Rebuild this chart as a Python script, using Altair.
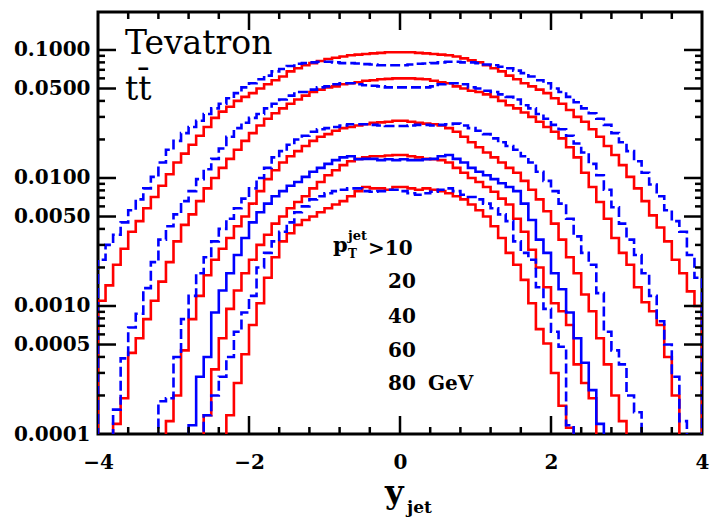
import numpy as np
import pandas as pd
import altair as alt

# ---- data (bin width 0.1, bins from -4 to 4; 0 = bin below the plotted range)
red_pt10 = [0.0011, 0.00145, 0.0021, 0.0028, 0.0038, 0.0046, 0.0058, 0.0071, 0.0087, 0.0107,
            0.0132, 0.0155, 0.0182, 0.0214, 0.025, 0.0295, 0.033, 0.036, 0.040, 0.043,
            0.046, 0.050, 0.054, 0.058, 0.062, 0.068, 0.072, 0.076, 0.079, 0.082,
            0.085, 0.087, 0.089, 0.091, 0.092, 0.093, 0.094, 0.095, 0.096, 0.096,
            0.096, 0.096, 0.095, 0.094, 0.093, 0.092, 0.091, 0.089, 0.086, 0.083,
            0.080, 0.076, 0.072, 0.068, 0.063, 0.059, 0.055, 0.052, 0.049, 0.046,
            0.042, 0.038, 0.034, 0.030, 0.0275, 0.024, 0.021, 0.0178, 0.0151, 0.0126,
            0.0102, 0.0083, 0.0066, 0.0051, 0.0041, 0.0032, 0.0023, 0.0018, 0.0013, 0.0010]
blue_pt10 = [0.0023, 0.0030, 0.0036, 0.0045, 0.0056, 0.0068, 0.0083, 0.0102, 0.0132, 0.0166,
             0.0195, 0.0224, 0.025, 0.028, 0.0316, 0.035, 0.038, 0.042, 0.046, 0.051,
             0.055, 0.059, 0.063, 0.068, 0.071, 0.075, 0.078, 0.079, 0.080, 0.081,
             0.081, 0.080, 0.079, 0.079, 0.0785, 0.0775, 0.077, 0.076, 0.076, 0.076,
             0.076, 0.077, 0.078, 0.0785, 0.079, 0.080, 0.081, 0.081, 0.080, 0.080,
             0.079, 0.077, 0.076, 0.074, 0.072, 0.069, 0.066, 0.062, 0.058, 0.055,
             0.050, 0.047, 0.043, 0.039, 0.035, 0.032, 0.029, 0.026, 0.0224, 0.019,
             0.0162, 0.0135, 0.011, 0.0089, 0.0072, 0.0056, 0.0046, 0.0038, 0.0025, 0.00166]
red_pt20 = [0, 0, 0.00012, 0.00019, 0.00043, 0.00056, 0.00079, 0.0011, 0.00155, 0.0022,
            0.0032, 0.0043, 0.0052, 0.0066, 0.0083, 0.0100, 0.012, 0.0141, 0.0166, 0.0195,
            0.0224, 0.0257, 0.029, 0.032, 0.035, 0.038, 0.041, 0.044, 0.047, 0.049,
            0.051, 0.052, 0.054, 0.055, 0.056, 0.0575, 0.058, 0.059, 0.0595, 0.060,
            0.060, 0.060, 0.0595, 0.059, 0.0575, 0.056, 0.055, 0.052, 0.050, 0.048,
            0.047, 0.045, 0.043, 0.040, 0.037, 0.035, 0.0325, 0.030, 0.0275, 0.025,
            0.023, 0.0204, 0.0174, 0.0145, 0.011, 0.0085, 0.0065, 0.0048, 0.0034, 0.0026,
            0.0021, 0.0014, 0.00107, 0.00091, 0.00071, 0.0004, 0.0002, 0, 0, 0]
blue_pt20 = [0, 0, 0.000155, 0.00039, 0.00068, 0.00087, 0.00138, 0.0022, 0.0033, 0.0042,
             0.0052, 0.0066, 0.0079, 0.0098, 0.0117, 0.0141, 0.017, 0.021, 0.0245, 0.027,
             0.0295, 0.0316, 0.035, 0.038, 0.041, 0.044, 0.047, 0.047, 0.049, 0.051,
             0.052, 0.054, 0.055, 0.055, 0.054, 0.053, 0.0525, 0.052, 0.051, 0.051,
             0.051, 0.051, 0.051, 0.051, 0.052, 0.054, 0.055, 0.055, 0.054, 0.051,
             0.050, 0.048, 0.047, 0.045, 0.043, 0.041, 0.037, 0.035, 0.0316, 0.029,
             0.026, 0.024, 0.0214, 0.0186, 0.0158, 0.0129, 0.0105, 0.0081, 0.0059, 0.0044,
             0.0033, 0.0025, 0.0018, 0.0012, 0.00076, 0.0005, 0.00028, 0.000126, 0, 0]
red_pt40 = [0, 0, 0, 0, 0, 0, 0, 0, 0, 0.000126,
            0.0002, 0.00045, 0.00079, 0.0012, 0.00174, 0.0023, 0.0028, 0.0034, 0.0042, 0.0050,
            0.0063, 0.0079, 0.0098, 0.0115, 0.0132, 0.0148, 0.0162, 0.0178, 0.0195, 0.021,
            0.022, 0.0234, 0.0245, 0.025, 0.0257, 0.0263, 0.027, 0.0272, 0.0275, 0.028,
            0.028, 0.0275, 0.027, 0.0266, 0.0263, 0.0257, 0.0245, 0.023, 0.021, 0.019,
            0.0174, 0.0158, 0.0145, 0.0132, 0.012, 0.011, 0.0095, 0.0081, 0.0068, 0.0055,
            0.0044, 0.0033, 0.0024, 0.0018, 0.00123, 0.00091, 0.00056, 0.00035, 0.0002, 0.000126,
            0, 0, 0, 0, 0, 0, 0, 0, 0, 0]
blue_pt40 = [0, 0, 0, 0, 0, 0, 0, 0, 0.00018, 0.00019,
             0.0004, 0.00079, 0.0012, 0.0018, 0.0024, 0.0032, 0.0040, 0.0048, 0.0058, 0.0069,
             0.0083, 0.0100, 0.012, 0.0145, 0.0162, 0.0182, 0.020, 0.0214, 0.023, 0.024,
             0.0245, 0.025, 0.0257, 0.0263, 0.0263, 0.0263, 0.026, 0.0257, 0.0255, 0.0255,
             0.0255, 0.0257, 0.026, 0.026, 0.0257, 0.026, 0.0263, 0.0266, 0.0257, 0.0245,
             0.0234, 0.022, 0.0204, 0.019, 0.0178, 0.0166, 0.0148, 0.0132, 0.0112, 0.0095,
             0.0079, 0.0063, 0.0048, 0.0035, 0.0026, 0.0021, 0.00126, 0.00063, 0.00045, 0.00035,
             0.0002, 0.000148, 0, 0, 0, 0, 0, 0, 0, 0]
red_pt60 = [0, 0, 0, 0, 0, 0, 0, 0, 0, 0,
            0, 0, 0, 0, 0.00014, 0.00032, 0.00056, 0.00095, 0.00132, 0.0018,
            0.0023, 0.0030, 0.0036, 0.0044, 0.0050, 0.0058, 0.0065, 0.0072, 0.0083, 0.0093,
            0.0105, 0.0115, 0.0126, 0.0135, 0.0141, 0.0145, 0.0148, 0.0148, 0.0150, 0.0151,
            0.0151, 0.0148, 0.0145, 0.0141, 0.0140, 0.0138, 0.0132, 0.0120, 0.0110, 0.0100,
            0.0093, 0.0085, 0.0078, 0.0069, 0.0062, 0.0048, 0.0038, 0.00275, 0.0020, 0.0014,
            0.00105, 0.00091, 0.00071, 0.00035, 0.00025, 0.00019, 0, 0, 0, 0,
            0, 0, 0, 0, 0, 0, 0, 0, 0, 0]
blue_pt60 = [0, 0, 0, 0, 0, 0, 0, 0, 0, 0,
             0, 0, 0.000117, 0.00028, 0.0004, 0.00089, 0.00132, 0.0018, 0.0025, 0.0034,
             0.0045, 0.0054, 0.0063, 0.0072, 0.0079, 0.0087, 0.0093, 0.0102, 0.0112, 0.0120,
             0.0129, 0.0138, 0.0145, 0.0148, 0.0140, 0.0141, 0.0141, 0.0138, 0.0140, 0.0138,
             0.0140, 0.0138, 0.0138, 0.0140, 0.0141, 0.0148, 0.0151, 0.0141, 0.0132, 0.0120,
             0.0112, 0.0105, 0.0098, 0.0091, 0.0085, 0.0079, 0.0063, 0.0047, 0.0033, 0.0026,
             0.0018, 0.00135, 0.00089, 0.00056, 0.00036, 0.00022, 0.00012, 0, 0, 0,
             0, 0, 0, 0, 0, 0, 0, 0, 0, 0]
red_pt80 = [0, 0, 0, 0, 0, 0, 0, 0, 0, 0,
            0, 0, 0, 0, 0, 0, 0, 0.00014, 0.00025, 0.00042,
            0.00071, 0.00105, 0.00166, 0.0024, 0.0032, 0.0037, 0.0043, 0.0047, 0.0050, 0.0054,
            0.0058, 0.0062, 0.0066, 0.0072, 0.0079, 0.0085, 0.0083, 0.0083, 0.0081, 0.0085,
            0.0085, 0.0083, 0.0081, 0.0083, 0.0081, 0.0079, 0.0076, 0.0072, 0.0068, 0.0062,
            0.0056, 0.0050, 0.0042, 0.0034, 0.0026, 0.0021, 0.0016, 0.00105, 0.00066, 0.00051,
            0.0003, 0.000166, 0.000112, 0, 0, 0, 0, 0, 0, 0,
            0, 0, 0, 0, 0, 0, 0, 0, 0, 0]
blue_pt80 = [0, 0, 0, 0, 0, 0, 0, 0, 0, 0,
             0, 0, 0, 0, 0.00014, 0.0002, 0.00028, 0.0004, 0.00063, 0.00089,
             0.0012, 0.0020, 0.0026, 0.0032, 0.0038, 0.0045, 0.0054, 0.0060, 0.0068, 0.0072,
             0.0076, 0.0079, 0.0081, 0.0083, 0.0083, 0.0079, 0.0078, 0.0079, 0.0081, 0.0081,
             0.0079, 0.0076, 0.0074, 0.0076, 0.0078, 0.0081, 0.0083, 0.0079, 0.0074, 0.0071,
             0.0068, 0.0063, 0.0058, 0.0052, 0.0046, 0.0032, 0.0026, 0.0023, 0.0014, 0.00095,
             0.00063, 0.00048, 0.000117, 0, 0, 0, 0, 0, 0, 0,
             0, 0, 0, 0, 0, 0, 0, 0, 0, 0]

x_label_values = [-4, -2, 0, 2, 4]
x_major_ticks = [-2, 0, 2]
x_minor_ticks = [-3.6, -3.2, -2.8, -2.4, -1.6, -1.2, -0.8, -0.4, 0.4, 0.8, 1.2, 1.6, 2.4, 2.8, 3.2, 3.6]
y_label_values = [0.1, 0.05, 0.01, 0.005, 0.001, 0.0005, 0.0001]
y_major_ticks = [0.1, 0.05, 0.01, 0.005, 0.001, 0.0005]
y_minor_ticks = [0.09, 0.08, 0.07, 0.06, 0.04, 0.03, 0.02,
                 0.009, 0.008, 0.007, 0.006, 0.004, 0.003, 0.002,
                 0.0009, 0.0008, 0.0007, 0.0006, 0.0004, 0.0003, 0.0002]

curves = [
    ("r10", red_pt10, "#ff0000", "solid"),
    ("r20", red_pt20, "#ff0000", "solid"),
    ("r40", red_pt40, "#ff0000", "solid"),
    ("r60", red_pt60, "#ff0000", "solid"),
    ("r80", red_pt80, "#ff0000", "solid"),
    ("b10", blue_pt10, "#0000ff", "dashed"),
    ("b20", blue_pt20, "#0000ff", "dashed"),
    ("b40", blue_pt40, "#0000ff", "dashed"),
    ("b60", blue_pt60, "#0000ff", "solid"),
    ("b80", blue_pt80, "#0000ff", "dashed"),
]

FLOOR = 1e-6
bin_lo = np.round(np.arange(80) * 0.1 - 4.0, 2)
rows = []
for k, (name, vals, color, dash) in enumerate(curves):
    pts = [(-4.0, FLOOR)] + [(float(bin_lo[i]), v if v > 0 else FLOOR) for i, v in enumerate(vals)] + [(4.0, FLOOR)]
    for j, (xv, yv) in enumerate(pts):
        rows.append({"curve": f"{k:02d}{name}", "x": xv, "y": yv, "ord": j, "color": color, "dash": dash})
df = pd.DataFrame(rows)

W, H = 604, 422
FONT = "DejaVu Serif"
MAJ, MIN = 18, 7

xs = alt.Scale(domain=[-4, 4], nice=False, zero=False)
ys = alt.Scale(type="log", domain=[0.0001, 0.198], nice=False)
ax_x = alt.Axis(values=x_label_values, format="d", ticks=False, domain=False, grid=False, title=None,
                labelFont=FONT, labelFontWeight="bold", labelFontSize=20, labelColor="black",
                labelPadding=18, labelFlush=False, labelOverlap=False)
ax_y = alt.Axis(values=y_label_values, format=".4f", ticks=False, domain=False, grid=False, title=None,
                labelFont=FONT, labelFontWeight="bold", labelFontSize=20, labelColor="black",
                labelPadding=8, labelFlush=False, labelOverlap=False)

lines = alt.Chart(df).mark_line(interpolate="step-after", strokeWidth=2.6, clip=True).encode(
    x=alt.X("x:Q", scale=xs, axis=ax_x),
    y=alt.Y("y:Q", scale=ys, axis=ax_y),
    color=alt.Color("color:N", scale=None),
    strokeDash=alt.StrokeDash("dash:N", scale=alt.Scale(domain=["solid", "dashed"], range=[[1, 0], [10, 4]]), legend=None),
    detail="curve:N",
    order="ord:Q",
)

def xticks(vals, length):
    d = pd.DataFrame({"t": vals})
    base = alt.Chart(d).mark_tick(orient="vertical", size=length, thickness=2.5, color="black", opacity=1)
    bot = base.encode(x=alt.X("t:Q", scale=xs, axis=ax_x), y=alt.value(H - length / 2))
    top = base.encode(x=alt.X("t:Q", scale=xs, axis=ax_x), y=alt.value(length / 2))
    return [bot, top]

def yticks(vals, length):
    d = pd.DataFrame({"t": vals})
    base = alt.Chart(d).mark_tick(orient="horizontal", size=length, thickness=2.5, color="black", opacity=1)
    left = base.encode(y=alt.Y("t:Q", scale=ys, axis=ax_y), x=alt.value(length / 2))
    right = base.encode(y=alt.Y("t:Q", scale=ys, axis=ax_y), x=alt.value(W - length / 2))
    return [left, right]

def label(text, px, py, size, weight="normal"):
    return alt.Chart(pd.DataFrame({"t": [text]})).mark_text(
        font=FONT, fontSize=size, fontWeight=weight, color="black", align="left", baseline="alphabetic"
    ).encode(x=alt.value(px), y=alt.value(py), text="t:N")

texts = [
    label("Tevatron", 27, 42, 33),
    label("t\u0074\u0304", 27, 88, 33),
    label("p", 235, 240, 21, "bold"),
    label("jet", 250, 228, 13, "bold"),
    label("T", 250, 246, 12, "bold"),
    label(">10", 270, 243, 20, "bold"),
    label("20", 290, 276, 20, "bold"),
    label("40", 290, 311, 20, "bold"),
    label("60", 290, 345, 20, "bold"),
    label("80", 290, 378, 20, "bold"),
    label("GeV", 330, 378, 20, "bold"),
    label("y", 287, 491, 32, "bold"),
    label("jet", 309, 501, 17, "bold"),
]

layers = [lines] + xticks(x_major_ticks, MAJ) + xticks(x_minor_ticks, MIN) + yticks(y_major_ticks, MAJ) + yticks(y_minor_ticks, MIN) + texts

chart = alt.layer(*layers).properties(
    width=W, height=H,
    background="white",
    padding={"left": 98, "top": 12, "right": 8, "bottom": 84},
    autosize=alt.AutoSizeParams(type="none"),
).configure_view(stroke="black", strokeWidth=3)

chart.save("out.html", embed_options={"renderer": "svg", "actions": False})
